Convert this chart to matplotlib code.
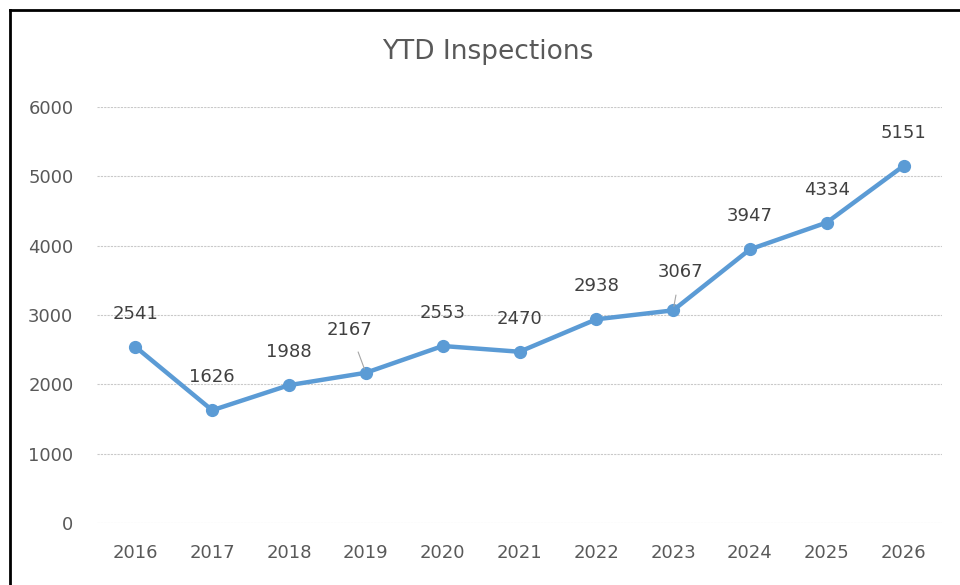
import matplotlib
matplotlib.use("Agg")
import matplotlib.pyplot as plt
from matplotlib.lines import Line2D

years = ["2016", "2017", "2018", "2019", "2020", "2021", "2022", "2023", "2024", "2025", "2026"]
inspections = [2541, 1626, 1988, 2167, 2553, 2470, 2938, 3067, 3947, 4334, 5151]
title = "YTD Inspections"

plt.rcParams['font.family'] = ['DejaVu Sans']

fig = plt.figure(figsize=(9.6, 5.85), dpi=100)
ax = fig.add_axes([97/960, 1-523/585, 845/960, 416/585])

x = list(range(len(years)))
ax.plot(x, inspections, color="#5B9BD5", linewidth=3.2, marker="o", markersize=8.5,
        solid_capstyle="round", solid_joinstyle="round", zorder=3)

ax.set_xlim(-0.5, len(years) - 0.5)
ax.set_ylim(0, 6000)
ax.set_yticks(range(0, 6001, 1000))
ax.set_xticks(x)
ax.set_xticklabels(years)
ax.grid(axis="y", color="#C9C9C9", linestyle=(0, (2, 1)), linewidth=0.8)
ax.set_axisbelow(True)
for s in ax.spines.values():
    s.set_visible(False)
ax.tick_params(length=0, labelsize=13, colors="#595959")
ax.tick_params(axis="x", pad=15)
ax.tick_params(axis="y", pad=17)

# label offsets in pixels (dx, dy)
offsets = {3: (-16, 43), 7: (7, 38)}
for i, v in enumerate(inspections):
    dx, dy = offsets.get(i, (0, 33))
    kw = dict(xytext=(dx * 0.72, dy * 0.72), textcoords="offset points",
              ha="center", va="center", fontsize=13, color="#404040")
    if i in offsets:
        kw["arrowprops"] = dict(arrowstyle="-", color="#A6A6A6", lw=0.8, shrinkA=8, shrinkB=3)
    ax.annotate(str(v), (i, v), **kw)

fig.text(488/960, 1-52/585, title, ha="center", va="center", fontsize=19, color="#595959")

# outer frame (left and top)
fig.add_artist(Line2D([9.5/960, 9.5/960], [0, 1-9.5/585], transform=fig.transFigure,
                      color="black", linewidth=2))
fig.add_artist(Line2D([9.5/960, 1], [1-9.5/585, 1-9.5/585], transform=fig.transFigure,
                      color="black", linewidth=2))

fig.savefig("out.png", dpi=100)
